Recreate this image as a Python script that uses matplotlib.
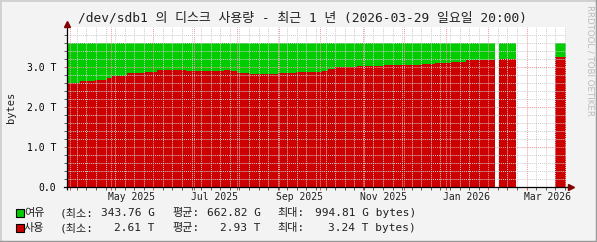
"""
RRDtool-style disk usage chart: /dev/sdb1, last 1 year.
Stacked area of used (red) and free (green) space, drawn as steps.
"""

import matplotlib

matplotlib.use("Agg")
import matplotlib.dates as mdates
import matplotlib.pyplot as plt
import matplotlib.transforms as mtransforms
import numpy as np
import pandas as pd
from matplotlib.lines import Line2D
from matplotlib.patches import Rectangle

# Step edges (each value holds from one edge to the next)
edges = [
    "2025-03-29 20:00", "2025-04-08", "2025-04-19", "2025-04-28", "2025-05-02",
    "2025-05-06", "2025-05-13", "2025-05-26", "2025-06-04", "2025-06-25",
    "2025-07-23", "2025-07-28", "2025-08-01", "2025-08-10", "2025-09-01",
    "2025-09-13", "2025-10-02", "2025-10-07", "2025-10-12", "2025-10-18",
    "2025-10-28", "2025-11-17", "2025-12-14", "2025-12-24", "2026-01-03",
    "2026-01-05", "2026-01-16", "2026-02-06", "2026-02-09", "2026-02-21",
    "2026-03-22", "2026-03-29 20:00",
]
# Used space in T (nan = no data)
used = [
    2.61, 2.64, 2.68, 2.73, 2.77, 2.78, 2.84, 2.88, 2.925, 2.89,
    2.925, 2.90, 2.86, 2.83, 2.84, 2.875, 2.91, 2.95, 3.00, 3.01,
    3.03, 3.05, 3.075, 3.10, 3.11, 3.13, 3.175, np.nan, 3.20, np.nan,
    3.24,
]
# Free space in T (stacked on top of used)
free = [
    0.995, 0.965, 0.925, 0.875, 0.835, 0.825, 0.765, 0.725, 0.68, 0.715,
    0.68, 0.705, 0.745, 0.775, 0.765, 0.73, 0.695, 0.655, 0.605, 0.595,
    0.575, 0.555, 0.53, 0.505, 0.495, 0.475, 0.43, np.nan, 0.405, np.nan,
    0.36,
]

y_ticks = [0, 1, 2, 3]
y_tick_labels = ["0.0", "1.0 T", "2.0 T", "3.0 T"]
x_labels = ["May 2025", "Jul 2025", "Sep 2025", "Nov 2025", "Jan 2026", "Mar 2026"]
x_label_dates = ["2025-05-16", "2025-07-16", "2025-09-16", "2025-11-16", "2026-01-16", "2026-03-16"]

title = "/dev/sdb1 의 디스크 사용량 - 최근 1 년 (2026-03-29 일요일 20:00)"
legend_names = ["여유", "사용"]
legend_colors = ["#00CC00", "#CC0000"]
legend_min = ["343.76 G", "2.61 T"]
legend_avg = ["662.82 G", "2.93 T"]
legend_max = ["994.81 G bytes)", "3.24 T bytes)"]

MONO = ["DejaVu Sans Mono", "Noto Sans CJK KR"]
W, H = 597, 242


def fx(px):
    return px / W


def fy(py):
    return 1 - py / H


def main():
    plt.rcParams["font.family"] = MONO
    fig = plt.figure(figsize=(W / 100, H / 100), dpi=100, facecolor="#F3F3F3")
    ax = fig.add_axes([fx(67), fy(187), fx(566) - fx(67), fy(27) - fy(187)])
    ax.set_facecolor("white")

    t = pd.to_datetime(edges, format="mixed")
    starts = mdates.date2num(t[:-1])
    widths = np.diff(mdates.date2num(t))
    used_a = np.array(used)
    free_a = np.array(free)

    ax.bar(starts, used_a, width=widths, align="edge", color="#CC0000",
           linewidth=0, antialiased=False, zorder=1)
    ax.bar(starts, free_a, width=widths, bottom=used_a, align="edge",
           color="#00CC00", linewidth=0, antialiased=False, zorder=1)

    x0 = mdates.date2num(pd.Timestamp("2025-03-29 20:00"))
    x1 = mdates.date2num(pd.Timestamp("2026-03-29 20:00"))
    ax.set_xlim(x0, x1)
    ax.set_ylim(0, 4.0)

    # grid: months major (red), weeks minor (gray, Sundays)
    ax.xaxis.set_major_locator(mdates.MonthLocator())
    ax.xaxis.set_minor_locator(mdates.WeekdayLocator(byweekday=mdates.SU))
    ax.xaxis.set_major_formatter(plt.NullFormatter())
    ax.set_yticks(y_ticks)
    ax.set_yticks(np.arange(0, 4.0, 0.2), minor=True)
    ax.set_yticklabels(y_tick_labels, fontsize=7)

    ax.grid(True, which="minor", color="#CDCDCD", linestyle=(0, (1, 1)), linewidth=0.7, zorder=2)
    ax.grid(True, which="major", color="#F09A9A", linestyle=(0, (1, 1)), linewidth=0.7, zorder=2)
    ax.set_axisbelow(False)

    ax.tick_params(axis="both", which="both", direction="out", length=2, width=0.6,
                   color="#404040", pad=5)
    ax.tick_params(axis="x", which="major", color="#CC4040")
    ax.tick_params(axis="y", which="major", color="#CC4040", pad=6)
    for s in ax.spines.values():
        s.set_visible(False)

    # x labels at mid-month
    trans = mtransforms.blended_transform_factory(ax.transData, ax.transAxes)
    for lab, d in zip(x_labels, x_label_dates):
        ax.text(mdates.date2num(pd.Timestamp(d)), -0.065, lab, transform=trans,
                ha="center", va="center", fontsize=7, color="#202020")

    # axes with arrows
    fig.add_artist(Line2D([fx(64), fx(571)], [fy(187), fy(187)], color="black", lw=0.9))
    fig.add_artist(Line2D([fx(67), fx(67)], [fy(189), fy(24)], color="black", lw=0.9))
    fig.add_artist(Line2D([fx(571)], [fy(187)], marker=">", markersize=5,
                          color="#800000", linestyle="none"))
    fig.add_artist(Line2D([fx(67)], [fy(24)], marker="^", markersize=5,
                          color="#800000", linestyle="none"))

    # title and y label
    fig.text(fx(302), fy(18), title, ha="center", va="center", fontsize=9.3, color="#202020")
    fig.text(fx(11), fy(107), "bytes", rotation=90, ha="center", va="center",
             fontsize=7.5, color="#202020")
    fig.text(fx(590), fy(5), "RRDTOOL / TOBI OETIKER", rotation=-90, ha="center",
             va="top", fontsize=6.2, color="#BBBBBB", family="DejaVu Sans")

    # legend rows
    for i, (name, col) in enumerate(zip(legend_names, legend_colors)):
        yc = 213 + 15 * i
        fig.add_artist(Rectangle((fx(15.5), fy(yc + 4)), fx(8), fy(yc - 4) - fy(yc + 4),
                                 facecolor=col, edgecolor="black", lw=0.8))
        kw = dict(va="center", fontsize=8, color="#202020")
        fig.text(fx(24), fy(yc), name, ha="left", **kw)
        fig.text(fx(60), fy(yc), "(최소:", ha="left", **kw)
        fig.text(fx(155), fy(yc), legend_min[i], ha="right", **kw)
        fig.text(fx(172), fy(yc), "평균:", ha="left", **kw)
        fig.text(fx(261), fy(yc), legend_avg[i], ha="right", **kw)
        fig.text(fx(277), fy(yc), "최대:", ha="left", **kw)
        fig.text(fx(416), fy(yc), legend_max[i], ha="right", **kw)

    # frame shading
    fig.add_artist(Line2D([0, 0, 1], [0, 1, 1], color="#D0D0D0", lw=2))
    fig.add_artist(Line2D([0, 1, 1], [0, 0, 1], color="#9A9A9A", lw=2.5))

    fig.savefig("out.png", dpi=100, facecolor=fig.get_facecolor())


if __name__ == "__main__":
    main()
